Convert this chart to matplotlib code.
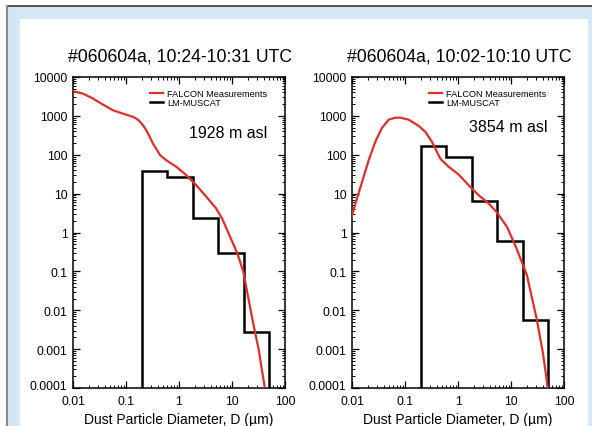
import matplotlib
matplotlib.use("Agg")
import matplotlib.pyplot as plt
from matplotlib.patches import Rectangle
from matplotlib.lines import Line2D
from matplotlib.transforms import ScaledTranslation
from matplotlib.ticker import LogLocator, FixedLocator, FixedFormatter, NullFormatter

plt.rcParams['font.family'] = ['Liberation Sans', 'DejaVu Sans']

# ---- data ----
titles = ["#060604a, 10:24-10:31 UTC", "#060604a, 10:02-10:10 UTC"]
altitudes = ["1928 m asl", "3854 m asl"]
legend_labels = ["FALCON Measurements", "LM-MUSCAT"]

bin_edges = [0.2, 0.6, 1.8, 5.5, 16.5, 50]
left_model = [38, 26, 2.4, 0.29, 0.0027]
right_model = [170, 85, 6.5, 0.6, 0.0055]

left_meas_x = [0.01, 0.0155, 0.0238, 0.0368, 0.0569, 0.0877, 0.1355, 0.157, 0.181, 0.21,
               0.242, 0.28, 0.323, 0.375, 0.432, 0.5, 0.577, 0.89, 1.37, 2.12, 3.28,
               5.0, 6.5, 8.0, 10.0, 12.6, 16.3, 22.5, 27.2, 31.8, 36.5, 41.7, 45]
left_meas_y = [4300, 3740, 2790, 1950, 1390, 1145, 940, 850, 725, 570,
               426, 290, 194, 140, 101, 84, 72, 49, 30, 16.4, 8.3,
               4.2, 2.3, 1.2, 0.6, 0.29, 0.1, 0.01, 0.0027, 0.001, 0.0003, 0.0001, 0.00005]

right_meas_x = [0.0095, 0.01, 0.0124, 0.0155, 0.0206, 0.0275, 0.0368, 0.0492, 0.0658, 0.0817,
                0.117, 0.181, 0.242, 0.323, 0.464, 0.667, 1.03, 1.59, 2.45, 3.79, 5.4,
                8.4, 12.8, 20, 30.5, 40, 47, 52]
right_meas_y = [2.0, 2.8, 7.5, 20, 72, 215, 490, 800, 900, 900,
                800, 553, 388, 215, 79, 49, 31, 16.4, 9.1, 5.6, 3.3,
                1.4, 0.38, 0.079, 0.006, 0.0008, 0.00017, 0.00005]

xticks = [0.01, 0.1, 1, 10, 100]
xtick_labels = ["0.01", "0.1", "1", "10", "100"]
yticks = [1e-4, 1e-3, 1e-2, 1e-1, 1, 10, 100, 1000, 10000]
ytick_labels = ["0.0001", "0.001", "0.01", "0.1", "1", "10", "100", "1000", "10000"]
xlabel = "Dust Particle Diameter, D (µm)"

W, H = 592, 427
fig = plt.figure(figsize=(W / 100, H / 100), dpi=100, facecolor='white')

# background frame
fig.patches.append(Rectangle((7 / W, 0), 585 / W, (H - 7) / H, transform=fig.transFigure,
                             facecolor='#d5e6f4', edgecolor='none', zorder=-3))
fig.patches.append(Rectangle((20 / W, 0), 568 / W, (H - 20) / H, transform=fig.transFigure,
                             facecolor='white', edgecolor='none', zorder=-2))
fig.lines.append(Line2D([7 / W, 1], [1 - 7 / H, 1 - 7 / H], transform=fig.transFigure,
                        color='#3a3a3a', lw=1.2))
fig.lines.append(Line2D([6.5 / W, 6.5 / W], [0, 1 - 7 / H], transform=fig.transFigure,
                        color='#8a8a8a', lw=1.5))

red = '#e42d2b'
panels = [
    (73, left_meas_x, left_meas_y, left_model, titles[0], altitudes[0], (0.733, 0.823)),
    (352, right_meas_x, right_meas_y, right_model, titles[1], altitudes[1], (0.736, 0.84)),
]

axes = []
for (x0, mx, my, model, title, alt, altpos) in panels:
    ax = fig.add_axes([x0 / W, (H - 389) / H, 212 / W, 311 / H])
    axes.append(ax)
    ax.set_xscale('log')
    ax.set_yscale('log')
    ax.set_xlim(0.01, 100)
    ax.set_ylim(1e-4, 1e4)
    ax.plot(mx, my, color=red, lw=1.6, zorder=3, label=legend_labels[0])
    ax.stairs(model, bin_edges, baseline=1e-6, fill=False, color='black', lw=1.8,
              zorder=2, label=legend_labels[1])
    ax.xaxis.set_major_locator(FixedLocator(xticks))
    ax.xaxis.set_major_formatter(FixedFormatter(xtick_labels))
    ax.yaxis.set_major_locator(FixedLocator(yticks))
    ax.yaxis.set_major_formatter(FixedFormatter(ytick_labels))
    ax.xaxis.set_minor_locator(LogLocator(base=10, subs=range(2, 10), numticks=20))
    ax.yaxis.set_minor_locator(LogLocator(base=10, subs=range(2, 10), numticks=20))
    ax.xaxis.set_minor_formatter(NullFormatter())
    ax.yaxis.set_minor_formatter(NullFormatter())
    ax.tick_params(which='both', direction='in', top=True, right=True, labelsize=8.8)
    ax.tick_params(axis='x', which='major', pad=5)
    ax.tick_params(axis='y', which='major', pad=4)
    ax.tick_params(which='major', length=5, width=0.9)
    ax.tick_params(which='minor', length=2.5, width=0.7)
    for s in ax.spines.values():
        s.set_linewidth(1.1)
    ax.text(altpos[0], altpos[1], alt, transform=ax.transAxes, ha='center', va='center',
            fontsize=11.5)
    ax.legend(loc='upper left', bbox_to_anchor=(0.363, 0.962), frameon=False,
              fontsize=6.6, handlelength=1.4, handletextpad=0.45, labelspacing=0.0,
              borderaxespad=0, borderpad=0)
    cx = (x0 + 106) / W
    fig.text(cx + 1 / W, 1 - 57 / H, title, ha='center', va='center', fontsize=12.7)
    fig.text(cx, (H - 424) / H, xlabel, ha='center', va='baseline', fontsize=10)

# raise the lowest y tick label slightly, as in the reference
fig.canvas.draw()
for ax in axes:
    t = ax.yaxis.get_major_ticks()[0]
    t.label1.set_transform(t.label1.get_transform() +
                           ScaledTranslation(0, 3 / 100, fig.dpi_scale_trans))

fig.savefig('out.png', dpi=100, facecolor=fig.get_facecolor())
